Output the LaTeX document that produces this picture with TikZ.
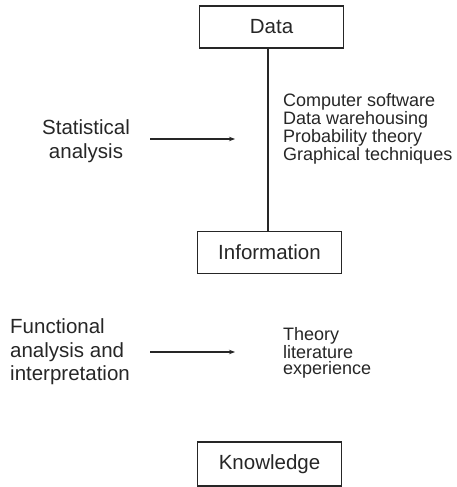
\documentclass[tikz,border=0pt]{standalone}
\usepackage{fontspec}
\setmainfont{Liberation Sans}
\usepackage{tikz}
\usetikzlibrary{arrows.meta,positioning}

\tikzset{
    stagebox/.style={draw=black!85, line width=1.6pt, minimum width=144pt, minimum height=42pt, inner sep=0pt, text=black!85, font=\fontsize{20.5}{23}\selectfont},
    sidelabel/.style={inner sep=0pt, text=black!85, font=\fontsize{20.5}{23.5}\selectfont},
    toollist/.style={align=left, anchor=west, inner sep=0pt, text=black!85, font=\fontsize{18}{16.5}\selectfont},
    flow/.style={draw=black!85, line width=1.6pt, -{Stealth[length=6pt,width=4.5pt]}}
}

\begin{document}
\begin{tikzpicture}[x=1pt, y=-1pt]
            \useasboundingbox (0,0) rectangle (457,487); % page size
            \node[stagebox] (data) at (271.5,27) {Data}; % top stage
            \node[stagebox] (info) at (269.5,252.5) {Information}; % middle stage
            \node[stagebox, minimum height=44pt] (know) at (269.5,464) {Knowledge}; % last stage
            \draw[draw=black!85, line width=1.8pt] (data.south -| 268,0) -- (info.north -| 268,0); % data to information
            \node[sidelabel, align=center] (stat) at (86,141) {Statistical\\analysis};
            \node[toollist] (tools1) at (283,129) {Computer software\\Data warehousing\\Probability theory\\Graphical techniques};
            \node[sidelabel, align=left, anchor=west] (func) at (10,352) {Functional\\analysis and\\interpretation};
            \node[toollist] (tools2) at (283,353) {Theory\\literature\\experience};
            \coordinate (a1s) at (150,139);
            \coordinate (a1e) at (235,139);
            \coordinate (a2s) at (150,352);
            \coordinate (a2e) at (235,352);
            \draw[flow] (a1s) -- (a1e); % statistical analysis arrow
            \draw[flow] (a2s) -- (a2e); % functional analysis arrow
        \end{tikzpicture}
\end{document}
